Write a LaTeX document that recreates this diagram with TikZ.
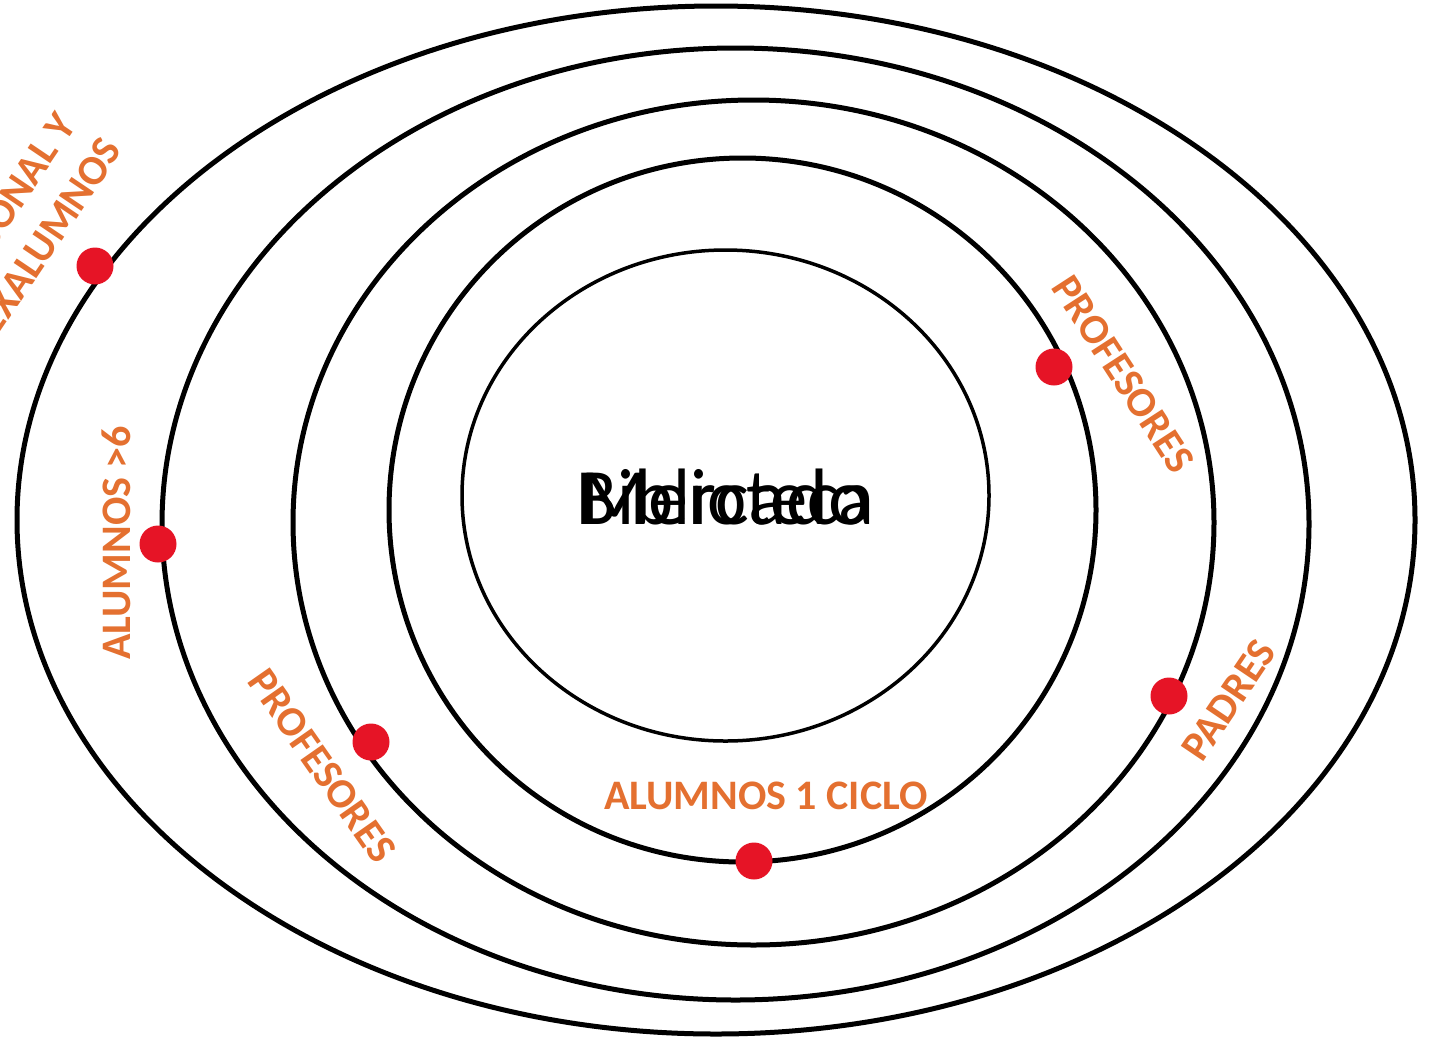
\documentclass[tikz,border=0pt]{standalone}
\usepackage{fontspec}
\setmainfont{Carlito}
\definecolor{lbl}{RGB}{228,112,48}
\definecolor{dotred}{RGB}{230,20,38}
\begin{document}
\begin{tikzpicture}[x=1pt,y=-1pt,
  ring/.style={draw=black,line width=5pt},
  innerring/.style={draw=black,line width=3.5pt},
  reddot/.style={circle,fill=dotred,draw=none,minimum size=37pt,inner sep=0pt},
  lab/.style={text=lbl,font=\fontsize{42}{52}\selectfont\bfseries,inner sep=0pt,align=center},
  ctext/.style={text=black,font=\fontsize{80}{90}\selectfont,inner sep=0pt}]
\useasboundingbox (0,0) rectangle (1437,1037);
\fill[white] (0,0) rectangle (1437,1037);
% rings
\draw[ring] (716,520) ellipse [x radius=699, y radius=514];
\draw[ring] (735.5,524) ellipse [x radius=573.5, y radius=476];
\draw[ring] (753.5,522.5) ellipse [x radius=460.5, y radius=422.5];
\draw[ring] (742.5,510) ellipse [x radius=353.5, y radius=352];
\draw[innerring] (725.5,495.5) ellipse [x radius=263.5, y radius=245.5];
% centre texts
\node[ctext] (t1) at (725.5,497) {Mercado};
\node[ctext,xscale=0.93] (t2) at (725.5,497) {Biblioteca};
% dots
\node[reddot] (d1) at (95,266) {};
\node[reddot] (d2) at (158,544) {};
\node[reddot] (d3) at (371,742) {};
\node[reddot] (d4) at (754,861) {};
\node[reddot] (d5) at (1054,367) {};
\node[reddot] (d6) at (1169,696) {};
% labels
\node[lab,rotate=56] (l1) at (27,222) {PERSONAL Y\\EXALUMNOS};
\node[lab,rotate=90] (l2) at (116,543) {ALUMNOS >6};
\node[lab,rotate=-55] (l3) at (322,766) {PROFESORES};
\node[lab] (l4) at (766,796) {ALUMNOS 1 CICLO};
\node[lab,rotate=-57] (l5) at (1123,374) {PROFESORES};
\node[lab,rotate=56] (l6) at (1229,700) {PADRES};
\end{tikzpicture}
\end{document}
